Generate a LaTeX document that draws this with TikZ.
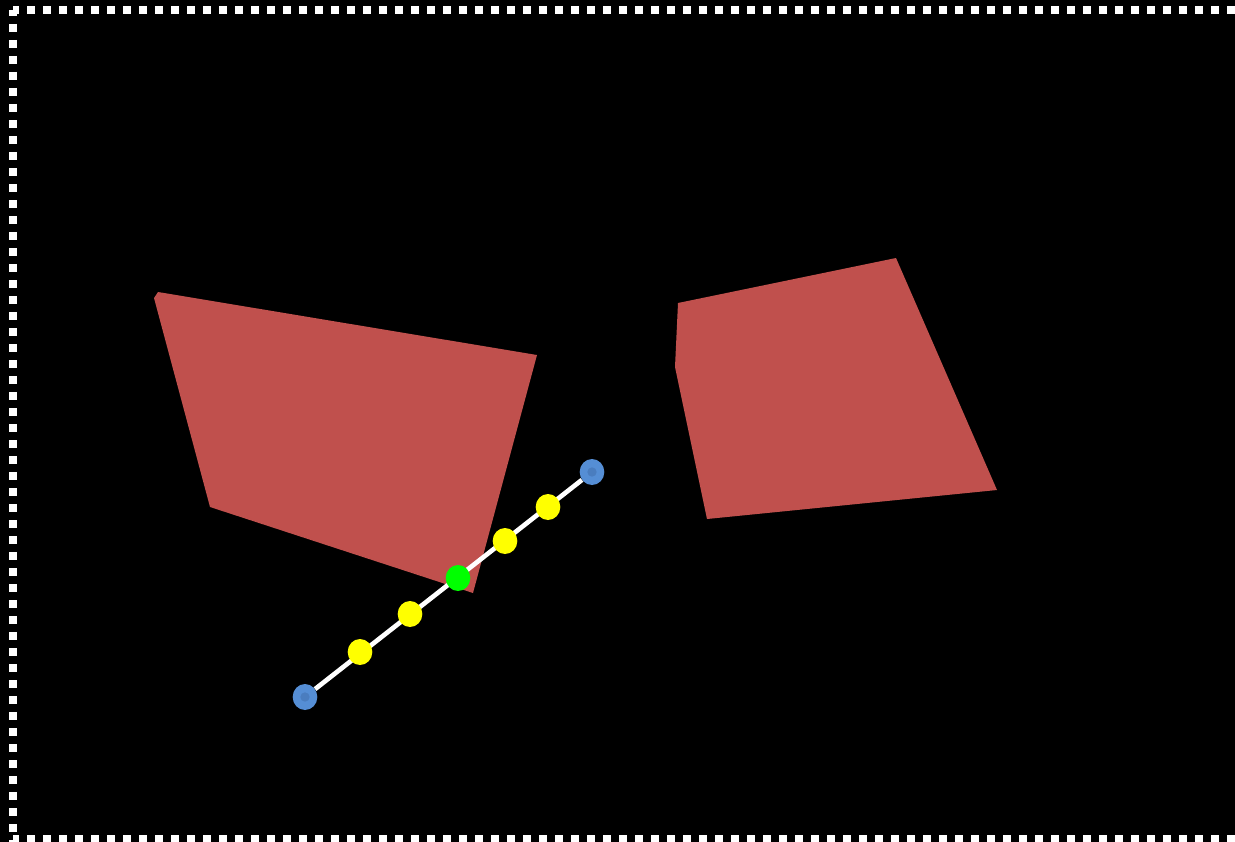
\documentclass[tikz,border=0pt]{standalone}
\usepackage{tikz}
\usetikzlibrary{shapes.geometric}
\definecolor{scBack}{HTML}{000000}
\definecolor{scFace}{HTML}{C0504D}
\definecolor{scEnd}{HTML}{558ED5}
\definecolor{scEndCore}{HTML}{4A7DBF}
\definecolor{scStep}{HTML}{FFFF00}
\definecolor{scHit}{HTML}{00FF00}
\tikzset{
  sc scene/.style={x=0.75pt, y=-0.75pt, line cap=butt, line join=miter},
  sc frame/.style={draw=white, line width=6pt, dash pattern=on 6pt off 6pt, dash phase=1.5pt},
  sc face/.style={fill=scFace, draw=none},
  sc ray/.style={draw=white, line width=3.5pt},
  sc dot/.style={shape=ellipse, draw=none, inner sep=0pt,
    minimum width=18.5pt, minimum height=19.5pt},
  sc end/.style={sc dot, fill=scEnd},
  sc step/.style={sc dot, fill=scStep},
  sc hit/.style={sc dot, fill=scHit}
}
\begin{document}
\begin{tikzpicture}[sc scene]
\useasboundingbox (0,0) rectangle (1235,842);
\fill[scBack] (0,0) rectangle (1235,842);
% frame
\draw[sc frame] (13,10) -- (1250,10);
\draw[sc frame] (13,10) -- (13,845);
\draw[sc frame] (13,839) -- (1250,839);
% faces
\fill[sc face] (158,292) -- (537,355) -- (473,593) -- (210,507) -- (154,298) -- cycle;
\fill[sc face] (678,303) -- (896,258) -- (997,490) -- (707,519) -- (675,367) -- cycle;
% ray with samples
\node[sc end] (start) at (305,697) {};
\node[sc end] (stop) at (592,472) {};
\draw[sc ray] (start) -- (stop);
\fill[scEndCore] (start) circle (3.5pt);
\fill[scEndCore] (stop) circle (3.5pt);
\foreach \name/\px/\py in {s1/360/652, s2/410/614, s3/505/541, s4/548/507}
  \node[sc step] (\name) at (\px,\py) {};
\node[sc hit] (hit) at (458,578) {};
\end{tikzpicture}
\end{document}
